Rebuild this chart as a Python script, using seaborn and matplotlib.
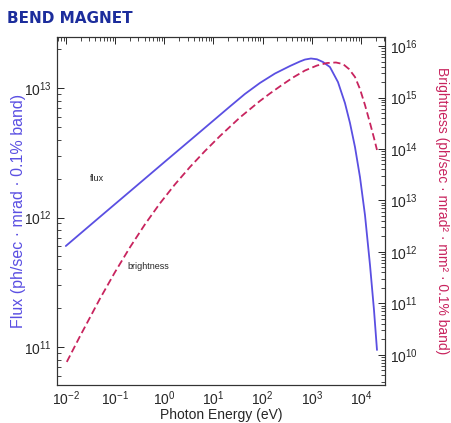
import numpy as np
import pandas as pd
import matplotlib
matplotlib.use('Agg')
import matplotlib.pyplot as plt
import seaborn as sns

# values (log10 of energy / flux / brightness)
flux_log_energy = [-2.000, -1.309, -0.698, 0.013, 0.725, 1.335, 1.640, 1.945, 2.251,
                   2.556, 2.759, 2.861, 2.983, 3.105, 3.227, 3.369, 3.532, 3.674,
                   3.776, 3.878, 3.979, 4.081, 4.183, 4.264, 4.325]
flux_log_value = [11.780, 12.004, 12.201, 12.431, 12.660, 12.857, 12.954, 13.039, 13.112,
                  13.170, 13.205, 13.220, 13.228, 13.222, 13.201, 13.162, 13.046, 12.884,
                  12.730, 12.544, 12.313, 12.019, 11.633, 11.286, 10.977]

bright_log_energy = [-1.980, -1.715, -1.309, -1.003, -0.698, -0.393, -0.088, 0.217, 0.522,
                     0.827, 1.132, 1.539, 1.945, 2.149, 2.393, 2.617, 2.861, 3.105,
                     3.308, 3.491, 3.634, 3.756, 3.878, 3.979, 4.081, 4.183, 4.264, 4.325]
bright_log_value = [9.864, 10.357, 11.087, 11.604, 12.087, 12.534, 12.942, 13.311, 13.648,
                    13.959, 14.250, 14.612, 14.932, 15.078, 15.243, 15.388, 15.524, 15.621,
                    15.670, 15.680, 15.650, 15.553, 15.398, 15.165, 14.854, 14.505, 14.214,
                    13.981]

flux_df = pd.DataFrame({'energy': np.power(10.0, flux_log_energy),
                        'flux': np.power(10.0, flux_log_value)})
bright_df = pd.DataFrame({'energy': np.power(10.0, bright_log_energy),
                          'brightness': np.power(10.0, bright_log_value)})

flux_color = '#5a4fe2'
bright_color = '#c8245e'

sns.set_style('white')
plt.rcParams['font.family'] = ['Liberation Sans', 'DejaVu Sans']
plt.rcParams['mathtext.fontset'] = 'custom'
plt.rcParams['mathtext.rm'] = 'Liberation Sans'
plt.rcParams['mathtext.it'] = 'Liberation Sans:italic'
plt.rcParams['axes.unicode_minus'] = False
plt.rcParams['xtick.direction'] = 'in'
plt.rcParams['ytick.direction'] = 'in'

fig = plt.figure(figsize=(4.52, 4.23), dpi=100)
ax = fig.add_axes([0.126, 0.09, 0.726, 0.8225])
ax2 = ax.twinx()

sns.lineplot(data=flux_df, x='energy', y='flux', ax=ax, color=flux_color,
             linewidth=1.3, sort=False)
sns.lineplot(data=bright_df, x='energy', y='brightness', ax=ax2, color=bright_color,
             linewidth=1.3, linestyle=(0, (4, 2)), sort=False)

ax.set_xscale('log')
ax.set_yscale('log')
ax2.set_yscale('log')
ax.set_xlim(10 ** -2.18, 10 ** 4.49)
ax.set_ylim(10 ** 10.707, 10 ** 13.394)
ax2.set_ylim(10 ** 9.417, 10 ** 16.175)

for a in (ax, ax2):
    for s in a.spines.values():
        s.set_color('#333333')
        s.set_linewidth(0.8)

ax.tick_params(which='major', length=5, width=0.7, top=True, right=False, labelsize=10)
ax.tick_params(which='minor', length=3, width=0.6, top=True, right=False)
ax2.tick_params(which='major', length=5, width=0.7, labelsize=10)
ax2.tick_params(which='minor', length=3, width=0.6)

ax.set_xlabel('Photon Energy (eV)', fontsize=10, labelpad=0)
ax.set_ylabel('Flux (ph/sec · mrad · 0.1% band)', fontsize=11.5, color=flux_color, labelpad=-1)
ax2.set_ylabel('Brightness (ph/sec · mrad² · mm² · 0.1% band)', fontsize=10,
               color=bright_color, rotation=-90, labelpad=22)

ax.text(0.031, 2.0e12, 'flux', fontsize=6.5, va='center')
ax.text(0.18, 4.2e11, 'brightness', fontsize=6.5, va='center')

fig.text(0.015, 0.957, 'BEND MAGNET', fontsize=11, fontweight='bold',
         color='#1c2d9c', family='DejaVu Sans', va='center')

fig.savefig('out.png', dpi=100)
